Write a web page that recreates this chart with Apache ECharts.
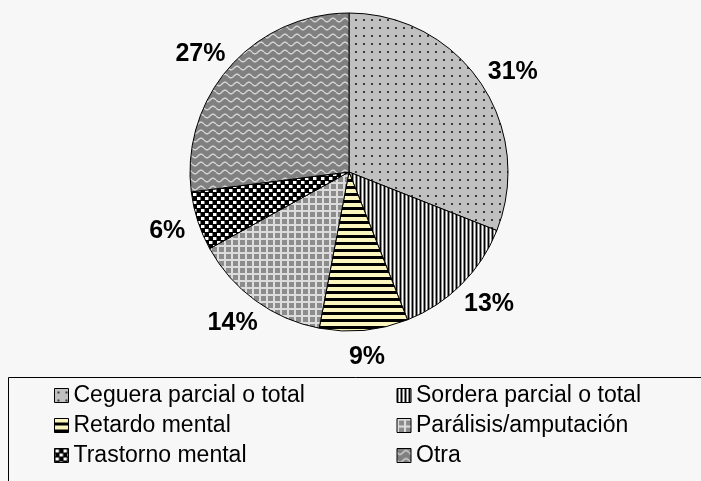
<!DOCTYPE html>
<html>
<head>
<meta charset="utf-8">
<script src="https://cdn.jsdelivr.net/npm/echarts@6/dist/echarts.min.js"></script>
<style>
html,body{margin:0;padding:0;background:#f7f7f7;}
#chart{width:701px;height:481px;}
</style>
</head>
<body>
<div id="chart"></div>
<script>
// ---- data ----
const categories = ['Ceguera parcial o total', 'Sordera parcial o total', 'Retardo mental', 'Parálisis/amputación', 'Trastorno mental', 'Otra'];
const percentages = [31, 13, 9, 14, 6, 27];

// ---- patterns ----
function tile(w, h, draw) {
  const c = document.createElement('canvas');
  c.width = w; c.height = h;
  const g = c.getContext('2d');
  draw(g, w, h);
  return { image: c, repeat: 'repeat' };
}
const patterns = [
  tile(8, 8, (g) => { g.fillStyle = '#c0c0c0'; g.fillRect(0, 0, 8, 8); g.fillStyle = '#3a3a3a'; g.fillRect(3, 3, 2, 2); }),
  tile(4, 1, (g) => { const cols = ['#000', '#8a8a8a', '#ffffff', '#8a8a8a']; cols.forEach((c, i) => { g.fillStyle = c; g.fillRect(i, 0, 1, 1); }); }),
  tile(1, 7, (g) => { g.fillStyle = '#fbf6bd'; g.fillRect(0, 0, 1, 7); g.fillStyle = '#000'; g.fillRect(0, 4, 1, 3); }),
  tile(7, 7, (g) => { g.fillStyle = '#dcdcdc'; g.fillRect(0, 0, 7, 7); g.fillStyle = '#8c8c8c'; g.fillRect(2, 2, 5, 5); }),
  tile(8, 8, (g) => { g.fillStyle = '#000'; g.fillRect(0, 0, 8, 8); g.fillStyle = '#fff'; g.fillRect(1, 1, 3, 3); g.fillRect(5, 5, 3, 3); g.fillStyle = '#777'; g.fillRect(4, 1, 1, 3); g.fillRect(0, 5, 1, 3); }),
  tile(12, 8, (g) => {
    g.fillStyle = '#808080'; g.fillRect(0, 0, 12, 8);
    g.strokeStyle = '#d6d6d6'; g.lineWidth = 1.4;
    g.beginPath();
    for (let x = 0; x <= 12; x += 0.5) { const y = 4 + 1.8 * Math.sin(x / 12 * 2 * Math.PI); if (x === 0) g.moveTo(x, y); else g.lineTo(x, y); }
    g.stroke();
  })
];

const FONT = "'Liberation Sans', Arial, sans-serif";
const CX = 349, CY = 172, R = 159, GAP = 14;

// cumulative mid angles (clockwise from top)
const total = percentages.reduce((a, b) => a + b, 0);
const midAngles = [];
{ let acc = 0; percentages.forEach(v => { midAngles.push((acc + v / 2) / total * 2 * Math.PI); acc += v; }); }

const chart = echarts.init(document.getElementById('chart'), null, { renderer: 'canvas' });
chart.setOption({
  backgroundColor: '#f7f7f7',
  animation: false,
  legend: {
    data: categories,
    orient: 'horizontal',
    left: 54,
    top: 384,
    width: 690,
    padding: 0,
    itemGap: 7,
    itemWidth: 14,
    itemHeight: 14,
    itemTextGap: 7,
    icon: 'rect',
    selectedMode: false,
    itemStyle: { borderColor: '#000', borderWidth: 1 },
    textStyle: { fontFamily: FONT, fontSize: 23, color: '#000', width: 316, lineHeight: 22 }
  },
  graphic: [{
    type: 'rect',
    shape: { x: 8.5, y: 377.5, width: 720, height: 200 },
    style: { fill: 'none', stroke: '#000', lineWidth: 1 },
    silent: true
  }],
  series: [{
    type: 'pie',
    center: [CX, CY],
    radius: R,
    startAngle: 90,
    clockwise: true,
    emphasis: { disabled: true },
    itemStyle: { borderColor: '#000', borderWidth: 1 },
    label: {
      show: true,
      position: 'outside',
      formatter: (p) => p.value + '%',
      fontFamily: FONT,
      fontSize: 25,
      fontWeight: 'bold',
      color: '#000'
    },
    labelLine: { show: false, length: 5, length2: 0 },
    labelLayout: function (params) {
      const a = midAngles[params.dataIndex];
      const ux = Math.sin(a), uy = -Math.cos(a);
      const w = params.labelRect.width, h = 20;
      const d = R + GAP;
      return { x: CX + ux * d + ux * w / 2, y: CY + uy * d + uy * h / 2 + 3, align: 'center', verticalAlign: 'middle' };
    },
    data: categories.map((name, i) => ({ name: name, value: percentages[i], itemStyle: { color: patterns[i] } }))
  }]
});
</script>
</body>
</html>
